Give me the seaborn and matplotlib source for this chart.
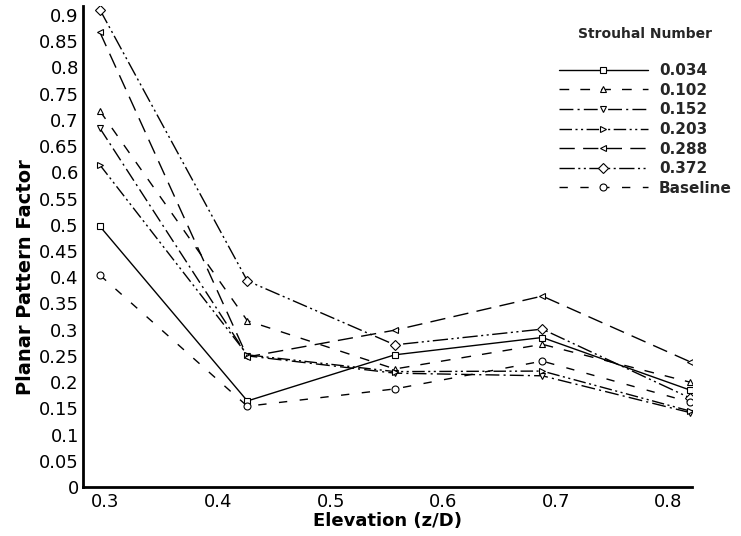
import matplotlib
matplotlib.use("Agg")
import matplotlib.pyplot as plt
import numpy as np
import pandas as pd
import seaborn as sns
from matplotlib.ticker import MultipleLocator, FuncFormatter

# ---- data ----
elevation = [0.295, 0.426, 0.557, 0.688, 0.819]
series_names = ["0.034", "0.102", "0.152", "0.203", "0.288", "0.372", "Baseline"]
ppf_0034 = [0.497, 0.164, 0.252, 0.285, 0.185]
ppf_0102 = [0.717, 0.317, 0.225, 0.272, 0.200]
ppf_0152 = [0.684, 0.250, 0.217, 0.212, 0.142]
ppf_0203 = [0.614, 0.252, 0.220, 0.221, 0.145]
ppf_0288 = [0.867, 0.248, 0.299, 0.364, 0.239]
ppf_0372 = [0.910, 0.393, 0.271, 0.301, 0.170]
ppf_base = [0.404, 0.154, 0.187, 0.240, 0.162]
series_values = [ppf_0034, ppf_0102, ppf_0152, ppf_0203, ppf_0288, ppf_0372, ppf_base]

rows = []
for name, vals in zip(series_names, series_values):
    for x, y in zip(elevation, vals):
        rows.append({"Elevation": x, "PPF": y, "Strouhal": name})
df = pd.DataFrame(rows)

# ---- styles ----
markers = {"0.034": "s", "0.102": "^", "0.152": "v", "0.203": ">",
           "0.288": "<", "0.372": "D", "Baseline": "o"}
dashes = {"0.034": "", "0.102": (7, 8), "0.152": (10, 3, 1.5, 3),
          "0.203": (9, 2.5, 1.5, 2.5, 1.5, 2.5), "0.288": (11, 6),
          "0.372": (11, 2.5, 1.5, 2.5, 1.5, 2.5), "Baseline": (6, 9)}

sns.set_theme(style="white")
plt.rcParams["font.family"] = ["DejaVu Sans"]

fig = plt.figure(figsize=(7.41, 5.36), dpi=100)
ax = fig.add_axes([83 / 741, 1 - 487 / 536, (692 - 83) / 741, (487 - 6) / 536])

sns.lineplot(data=df, x="Elevation", y="PPF", style="Strouhal",
             style_order=series_names, markers=markers, dashes=dashes,
             color="black", linewidth=1.0, markersize=5,
             markerfacecolor="white", markeredgecolor="black",
             markeredgewidth=0.8, errorbar=None, legend=False, ax=ax)

ax.set_xlim(0.28, 0.821)
ax.set_ylim(0, 0.917)

ax.xaxis.set_major_locator(MultipleLocator(0.1))
ax.xaxis.set_minor_locator(MultipleLocator(0.02))
ax.yaxis.set_major_locator(MultipleLocator(0.05))
ax.yaxis.set_minor_locator(MultipleLocator(0.01))
fmt = FuncFormatter(lambda v, p: ("%.2f" % v).rstrip("0").rstrip(".") if abs(v) > 1e-9 else "0")
ax.xaxis.set_major_formatter(fmt)
ax.yaxis.set_major_formatter(fmt)

for side in ["top", "right"]:
    ax.spines[side].set_visible(False)
for side in ["left", "bottom"]:
    ax.spines[side].set_linewidth(2.0)
    ax.spines[side].set_color("black")

ax.tick_params(axis="x", which="major", direction="in", length=9, width=1.6,
               labelsize=13, pad=4, colors="black")
ax.tick_params(axis="x", which="minor", direction="in", length=4.5, width=0.8, colors="black")
ax.tick_params(axis="y", which="major", direction="in", length=6.5, width=1.6,
               labelsize=13, pad=3, colors="black")
ax.tick_params(axis="y", which="minor", direction="in", length=4, width=0.8, colors="black")

ax.set_xlabel("Elevation (z/D)", fontsize=13, fontweight="bold", color="black", labelpad=1)
ax.set_ylabel("Planar Pattern Factor", fontsize=14, fontweight="bold", color="black")
ax.yaxis.set_label_coords(-0.079, 0.437)

handles = ax.lines[:len(series_names)]
leg = ax.legend(handles, series_names, title="Strouhal Number", loc="upper left",
                bbox_to_anchor=(559 / 741, 1 - 27 / 536), bbox_transform=fig.transFigure,
                frameon=False, handlelength=5.8, handletextpad=0.75, labelspacing=0.3,
                borderpad=0, borderaxespad=0, numpoints=1,
                prop={"weight": "bold", "size": 11},
                title_fontproperties={"weight": "bold", "size": 10})
leg._legend_box.sep = 16

fig.savefig("out.png", dpi=100)
